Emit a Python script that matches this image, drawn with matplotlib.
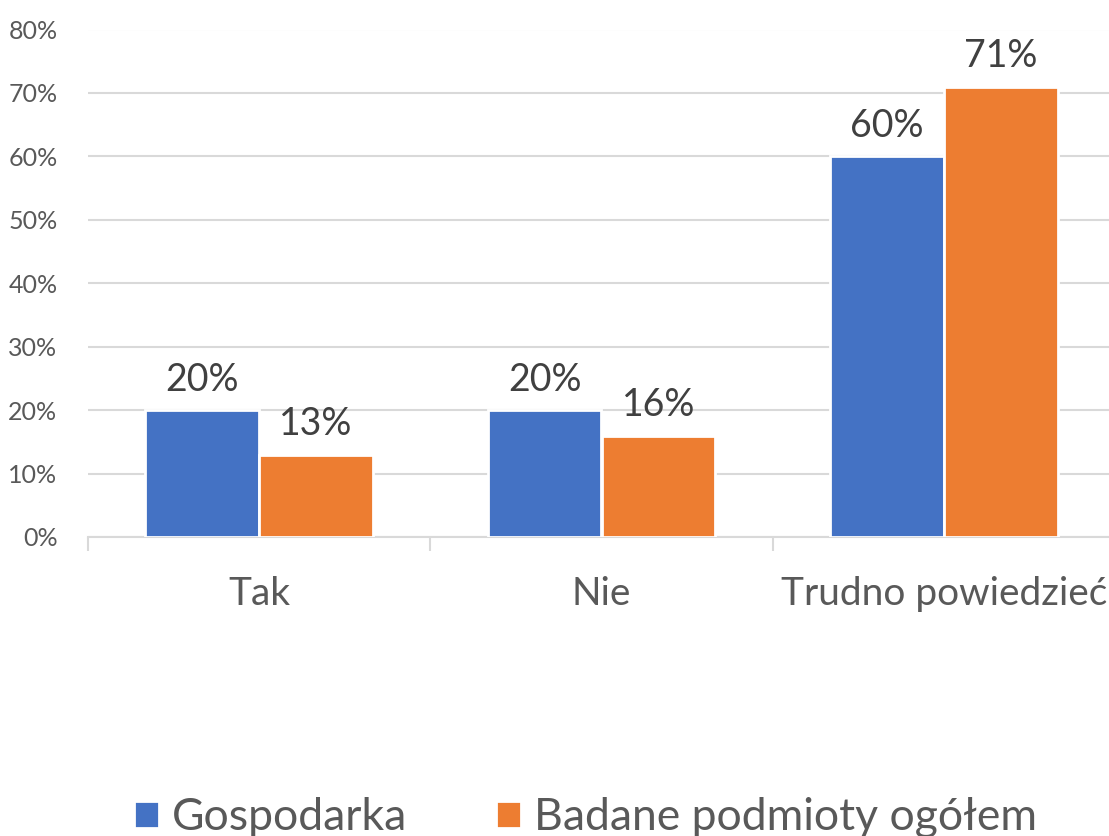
import matplotlib.pyplot as plt
import numpy as np
from matplotlib.ticker import FixedLocator, PercentFormatter

plt.rcParams['font.family'] = ['Lato', 'DejaVu Sans']

categories = ['Tak', 'Nie', 'Trudno powiedzieć']
gospodarka = [20, 20, 60]
badane = [13, 16, 71]
series_names = ['Gospodarka', 'Badane podmioty ogółem']
colors = ['#4472C4', '#ED7D31']

fig = plt.figure(figsize=(11.09, 8.36), dpi=100)
# plot area runs a bit past the right edge, like the original
ax = fig.add_axes([88 / 1109, 1 - 537 / 836, 1027 / 1109, 507.5 / 836])

x = np.arange(len(categories))
w = 0.333
b1 = ax.bar(x - w / 2, gospodarka, w, color=colors[0], edgecolor='white',
            linewidth=2, label=series_names[0], zorder=3)
b2 = ax.bar(x + w / 2, badane, w, color=colors[1], edgecolor='white',
            linewidth=2, label=series_names[1], zorder=3)

for bars, vals in ((b1, gospodarka), (b2, badane)):
    for r, v in zip(bars, vals):
        ax.annotate(f'{v}%', (r.get_x() + r.get_width() / 2, v),
                    xytext=(0, 9), textcoords='offset points',
                    ha='center', va='bottom', fontsize=27, color='#404040')

ax.set_xlim(-0.5, 2.5)
ax.set_ylim(0, 80)
ax.set_yticks(range(0, 81, 10))
ax.yaxis.set_major_formatter(PercentFormatter(decimals=0))
ax.grid(axis='y', color='#d9d9d9', linewidth=1.5, zorder=0)
ax.tick_params(axis='y', length=0, labelsize=18, labelcolor='#595959', pad=22)

ax.set_xticks(x)
ax.set_xticklabels(categories)
ax.xaxis.set_minor_locator(FixedLocator([-0.5, 0.5, 1.5, 2.5]))
ax.tick_params(axis='x', which='major', length=0, labelsize=28,
               labelcolor='#595959', pad=28)
ax.tick_params(axis='x', which='minor', length=10, width=1.5, color='#d9d9d9')

for s in ('top', 'right', 'left'):
    ax.spines[s].set_visible(False)
ax.spines['bottom'].set_color('#d9d9d9')
ax.spines['bottom'].set_linewidth(1.5)

fig.legend(handles=[b1, b2], loc='center', bbox_to_anchor=(0.528, 0.022),
           ncol=2, frameon=False, fontsize=32, labelcolor='#595959',
           handlelength=0.55, handleheight=0.55, handletextpad=0.3,
           columnspacing=2.0)

fig.savefig('out.png', dpi=100)
